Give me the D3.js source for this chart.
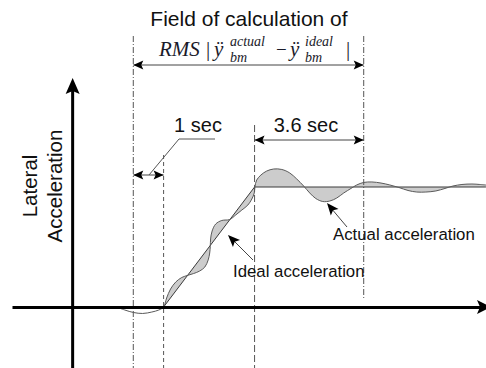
<!DOCTYPE html>
<html><head><meta charset="utf-8">
<script src="https://cdn.jsdelivr.net/npm/d3@7"></script>
<style>html,body{margin:0;padding:0;background:#fff}svg{display:block}</style>
</head><body>
<svg id="chart" width="486" height="368"></svg>
<script>
// Measured lateral acceleration response (time in s, acceleration normalised to the target level)
const actualTime = [1.45, 1.72, 2.01, 2.31, 2.61, 2.84, 3.00, 3.10, 3.23, 3.40, 3.60, 3.80, 3.99, 4.19, 4.36, 4.47,
  4.52, 4.54, 4.55, 4.60, 4.72, 4.92, 5.18, 5.38, 5.58, 5.78, 5.91, 5.99, 6.01, 6.07, 6.21, 6.40, 6.63, 6.90, 7.16,
  7.39, 7.62, 7.82, 8.02, 8.25, 8.48, 8.71, 8.94, 9.18, 9.37, 9.60, 9.87, 10.17, 10.46, 10.76, 11.06, 11.35, 11.65,
  11.98, 12.28, 12.54, 12.84, 13.17, 13.43, 13.63];
const actualAccel = [0, -0.025, -0.046, -0.054, -0.042, -0.025, 0, 0.075, 0.15, 0.208, 0.246, 0.264, 0.279, 0.30,
  0.333, 0.392, 0.45, 0.506, 0.567, 0.633, 0.692, 0.721, 0.729, 0.767, 0.808, 0.85, 0.90, 0.95, 1.0, 1.058, 1.10,
  1.133, 1.15, 1.146, 1.117, 1.067, 1.008, 0.95, 0.904, 0.879, 0.883, 0.908, 0.95, 0.988, 1.017, 1.038, 1.042,
  1.033, 1.017, 0.996, 0.971, 0.958, 0.958, 0.967, 0.988, 1.008, 1.021, 1.025, 1.021, 1.017];
// Ideal (reference) ramp
const idealTime = [1.45, 3, 6, 13.63];
const idealAccel = [0, 0, 1, 1];
// Event times: field start, manoeuvre start, ramp end, field end
const markerTimes = [2, 3, 6, 9.6];
const spanLabels = ["1 sec", "3.6 sec"];
const titleText = "Field of calculation of";
const axisTitle = ["Lateral", "Acceleration"];
const curveLabels = ["Ideal acceleration", "Actual acceleration"];

const svg = d3.select("#chart");
const W = 486, H = 368;
const x = d3.scaleLinear().domain([-2, 13.6]).range([12, 485]);
const y = d3.scaleLinear().domain([-0.5, 1.9]).range([367, 79]);

const sans = "'Liberation Sans', Arial, sans-serif";
const serif = "'Liberation Serif', 'Times New Roman', serif";

function arrowHead(g, tx, ty, angle, len, half, notch, fill) {
  const pts = [[0, 0], [-len, -half], [-len + notch, 0], [-len, half]];
  g.append("path").attr("d", "M" + pts.join("L") + "Z")
    .attr("transform", `translate(${tx},${ty}) rotate(${angle})`)
    .attr("fill", fill || "#000");
}
function dimArrow(g, x1, x2, yy) {
  g.append("line").attr("x1", x1).attr("x2", x2).attr("y1", yy).attr("y2", yy)
    .attr("stroke", "#444").attr("stroke-width", 1);
  arrowHead(g, x1, yy, 180, 10, 4.5, 2);
  arrowHead(g, x2, yy, 0, 10, 4.5, 2);
}

const actualPts = actualTime.map((t, i) => [x(t), y(actualAccel[i])]);
const idealPts = idealTime.map((t, i) => [x(t), y(idealAccel[i])]);
const curveLine = d3.line().curve(d3.curveCatmullRom.alpha(0.5));
const straight = d3.line();

// Shaded error between actual and ideal, from the manoeuvre start onward
svg.append("clipPath").attr("id", "errClip").append("rect")
  .attr("x", x(markerTimes[1])).attr("y", 0).attr("width", W).attr("height", H);
const idealRev = idealPts.slice().reverse();
svg.append("path")
  .attr("d", curveLine(actualPts) + "L" + idealRev.join("L") + "Z")
  .attr("fill", "#cccccc").attr("fill-rule", "evenodd").attr("stroke", "none")
  .attr("clip-path", "url(#errClip)");

// Event guide lines
const guides = svg.append("g").attr("fill", "none").attr("stroke", "#555").attr("stroke-width", 1);
const guideSpec = [
  { t: markerTimes[0], y1: 36, y2: H, dash: "6,2,1,2" },
  { t: markerTimes[1], y1: 155, y2: H, dash: "4,3" },
  { t: markerTimes[2], y1: 125, y2: H, dash: "7,3" },
  { t: markerTimes[3], y1: 36, y2: 300, dash: "6,2,1,2" }
];
guideSpec.forEach(d => {
  guides.append("line").attr("x1", x(d.t)).attr("x2", x(d.t)).attr("y1", d.y1).attr("y2", d.y2)
    .attr("stroke-dasharray", d.dash);
});

// Curves
svg.append("path").attr("d", straight(idealPts)).attr("fill", "none").attr("stroke", "#3a3a3a").attr("stroke-width", 1);
svg.append("path").attr("d", curveLine(actualPts)).attr("fill", "none").attr("stroke", "#5a5a5a").attr("stroke-width", 1);

// Axes
const xAxis = svg.append("g").attr("transform", `translate(0,${y(0)})`)
  .call(d3.axisBottom(x).tickValues([]).tickSizeOuter(0));
xAxis.select(".domain").attr("stroke", "#000").attr("stroke-width", 3);
arrowHead(svg, x.range()[1] + 6, y(0), 0, 14, 7, 3);
const yAxis = svg.append("g").attr("transform", `translate(${x(0)},0)`)
  .call(d3.axisLeft(y).tickValues([]).tickSizeOuter(0));
yAxis.select(".domain").attr("stroke", "#000").attr("stroke-width", 3)
  .attr("d", `M0,${H + 2}V${y.range()[1] + 8}`);
arrowHead(svg, x(0), y.range()[1] - 1, -90, 16, 7, 3);

// Axis title
axisTitle.forEach((s, i) => {
  svg.append("text").attr("transform", `translate(${37 + i * 25},186) rotate(-90)`)
    .attr("text-anchor", "middle").attr("font-family", sans).attr("font-size", 20.5).attr("fill", "#111")
    .text(s);
});

// Title and calculation field
svg.append("text").attr("x", 249).attr("y", 26).attr("text-anchor", "middle")
  .attr("font-family", sans).attr("font-size", 21).attr("fill", "#111").text(titleText);

const formula = svg.append("g").attr("font-family", serif).attr("fill", "#1a1a2a");
const pieces = [
  { s: "RMS", dx: 0, by: 56, fs: 21, it: true },
  { s: "|", dx: 47, by: 56, fs: 21, it: false },
  { s: "ÿ", dx: 55, by: 56, fs: 21, it: true },
  { s: "actual", dx: 71, by: 46, fs: 14, it: true },
  { s: "bm", dx: 71, by: 62, fs: 14, it: true },
  { s: "−", dx: 117, by: 56, fs: 19, it: false },
  { s: "ÿ", dx: 131, by: 56, fs: 21, it: true },
  { s: "ideal", dx: 146, by: 46, fs: 14, it: true },
  { s: "bm", dx: 146, by: 62, fs: 14, it: true },
  { s: "|", dx: 187, by: 56, fs: 21, it: false }
];
pieces.forEach(p => {
  formula.append("text").attr("x", 159 + p.dx).attr("y", p.by).attr("font-size", p.fs)
    .attr("font-style", p.it ? "italic" : "normal").text(p.s);
});
dimArrow(svg, x(markerTimes[0]), x(markerTimes[3]), 65);

// Span dimensions
dimArrow(svg, x(markerTimes[0]), x(markerTimes[1]), 175);
svg.append("path").attr("d", "M149,175L179,139H215").attr("fill", "none").attr("stroke", "#555").attr("stroke-width", 1);
svg.append("text").attr("x", 198).attr("y", 132).attr("text-anchor", "middle")
  .attr("font-family", sans).attr("font-size", 20).attr("fill", "#111").text(spanLabels[0]);

dimArrow(svg, x(markerTimes[2]), x(markerTimes[3]), 140);
svg.append("text").attr("x", 306).attr("y", 132).attr("text-anchor", "middle")
  .attr("font-family", sans).attr("font-size", 20).attr("fill", "#111").text(spanLabels[1]);

// Curve callouts
svg.append("line").attr("x1", 253).attr("y1", 260).attr("x2", 234).attr("y2", 241).attr("stroke", "#444");
arrowHead(svg, 228, 235, Math.atan2(235 - 260, 228 - 253) * 180 / Math.PI, 12, 5, 2.5);
svg.append("text").attr("x", 233).attr("y", 277).attr("font-family", sans).attr("font-size", 16.8)
  .attr("fill", "#111").text(curveLabels[0]);

svg.append("line").attr("x1", 347).attr("y1", 227).attr("x2", 331).attr("y2", 208).attr("stroke", "#444");
arrowHead(svg, 327, 203, Math.atan2(203 - 227, 327 - 347) * 180 / Math.PI, 12, 5, 2.5);
svg.append("text").attr("x", 333).attr("y", 240).attr("font-family", sans).attr("font-size", 16.8)
  .attr("fill", "#111").text(curveLabels[1]);
</script>
</body></html>
